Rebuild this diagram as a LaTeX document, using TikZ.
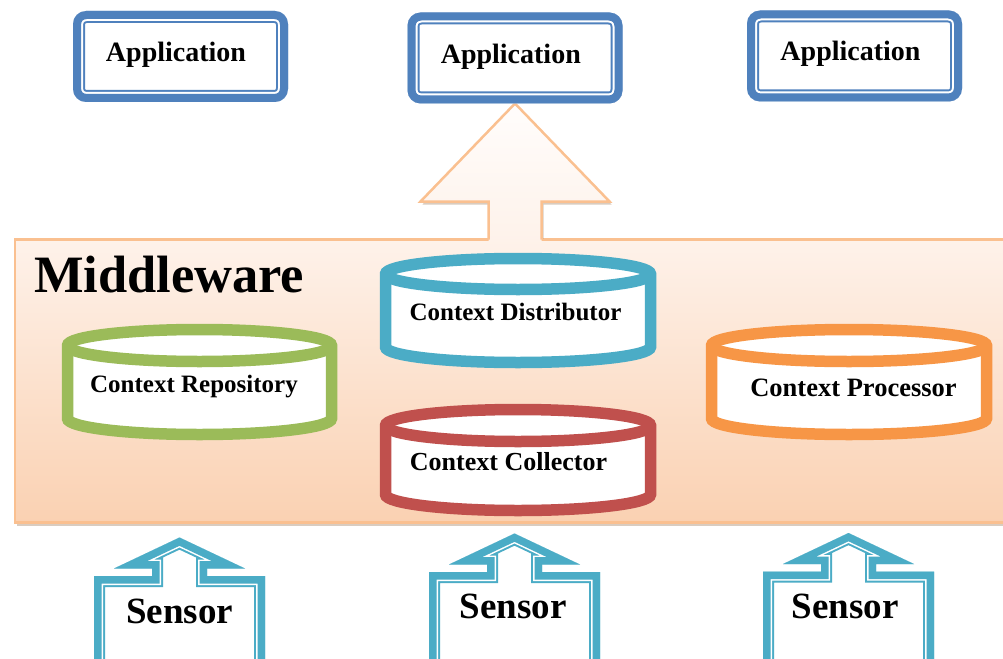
\documentclass[tikz,border=0pt]{standalone}
\usepackage{fontspec}
\setmainfont{Liberation Serif}

\definecolor{appblue}{HTML}{4F81BD}
\definecolor{sensteal}{HTML}{4BACC6}
\definecolor{repogreen}{HTML}{9BBB59}
\definecolor{distblue}{HTML}{4BACC6}
\definecolor{collred}{HTML}{C0504D}
\definecolor{procorange}{HTML}{F79646}
\definecolor{mwline}{HTML}{FAC090}
\definecolor{mwtop}{HTML}{FEF2EA}
\definecolor{mwbottom}{HTML}{FAD1B2}
\definecolor{mwshadow}{HTML}{B9A28C}
\definecolor{arrowtop}{HTML}{FFFDFC}

\tikzset{
  every node/.style={inner sep=0pt, outer sep=0pt},
  boldlabel/.style={font=\bfseries\fontsize{#1}{#1}\selectfont, anchor=base},
  mwpanel/.style={draw=mwline, line width=2.5, top color=mwtop, bottom color=mwbottom,
    minimum width=995, minimum height=283},
  appbox/.style={fill=white, rounded corners=13, minimum width=215, minimum height=91},
  cylline/.style={line width=11.5},
  bigarrowline/.style={draw=mwline, line width=2.5, line join=miter},
  sensor outline/.style={insert path={(-85.5,160) -- (-85.5,38.5) -- (-27.5,38.5) -- (-27.5,31)
    -- (-65.5,31) -- (0,0) -- (65.5,31) -- (27.5,31) -- (27.5,38.5) -- (85.5,38.5)
    -- (85.5,160) -- cycle}},
}

% thick-thin frame of an application box, kept inside the box
\newcommand\appframe[1]{%
  \begin{scope}
    \clip[rounded corners=13] (#1.north west) rectangle (#1.south east);
    \draw[appblue, line width=24, rounded corners=13] (#1.north west) rectangle (#1.south east);
    \draw[white, line width=20, rounded corners=13] (#1.north west) rectangle (#1.south east);
    \draw[appblue, line width=16, rounded corners=13] (#1.north west) rectangle (#1.south east);
  \end{scope}}

% thick-thin up-arrow callout of a sensor, placed by the tip of its arrow
\newcommand\sensorframe[1]{%
  \begin{scope}[shift={(#1)}]
    \clip[sensor outline];
    \path[fill=white, sensor outline];
    \draw[sensteal, line width=22, sensor outline];
    \draw[white, line width=18, sensor outline];
    \draw[sensteal, line width=15, sensor outline];
  \end{scope}}

% database cylinder: colour, centre, x radius, half distance of the caps, y radius
\newcommand\cylinder[5]{%
  \begin{scope}[shift={(#2)}]
    \filldraw[cylline, fill=white, draw=#1] (-#3,-#4) -- (-#3,#4)
      arc[start angle=180, end angle=0, x radius=#3, y radius=#5] -- (#3,-#4)
      arc[start angle=0, end angle=-180, x radius=#3, y radius=#5] -- cycle;
    \draw[cylline, draw=#1] (-#3,-#4) arc[start angle=180, end angle=0, x radius=#3, y radius=#5];
  \end{scope}}

\begin{document}
\begin{tikzpicture}[x=1pt, y=-1pt]
\useasboundingbox (0,0) rectangle (1003,658);
\clip (0,0) rectangle (1003,658);

% middleware panel
\fill[mwshadow, opacity=.55] (17,242.5) rectangle (1012,525.5);
\node[mwpanel] (mw) at (512.5,381) {};
\node[boldlabel=52.5, anchor=base west] (mwtitle) at (34,292) {Middleware};

% application boxes
\node[appbox] (app1) at (180.5,56.5) {};
\node[appbox] (app2) at (515,58) {};
\node[appbox] (app3) at (854.5,56) {};

% block arrow from the middleware up to the middle application
\coordinate (tip) at (app2.south);
\begin{scope}
  \clip (0,0) rectangle (1003,238.5);
  \fill[mwshadow, opacity=.55] ([shift={(2,3)}]tip) -- ++(94.5,98) -- ++(-68,0) -- ++(0,45)
    -- ++(-53,0) -- ++(0,-45) -- ++(-68,0) -- cycle;
\end{scope}
\shade[top color=arrowtop, bottom color=mwtop] (tip) -- ++(94.5,98) -- ++(-68,0) -- ++(0,40.5)
  -- ++(-53,0) -- ++(0,-40.5) -- ++(-68,0) -- cycle;
\draw[bigarrowline] ([shift={(26.5,136)}]tip) -- ++(0,-38) -- ++(68,0) -- (tip)
  -- ++(-94.5,98) -- ++(68,0) -- ++(0,38);

\appframe{app1}
\appframe{app2}
\appframe{app3}
\node[boldlabel=28] (app1label) at (176,62) {Application};
\node[boldlabel=28] (app2label) at (510.8,63.3) {Application};
\node[boldlabel=28] (app3label) at (850.5,60.5) {Application};

% context components
\coordinate (repo) at (199.5,382);
\coordinate (dist) at (518,310.5);
\coordinate (coll) at (518,460);
\coordinate (proc) at (849,382);
\cylinder{repogreen}{repo}{132}{36.5}{16}
\cylinder{distblue}{dist}{132.5}{36.5}{15.5}
\cylinder{collred}{coll}{132.5}{34.5}{16}
\cylinder{procorange}{proc}{137.5}{36.5}{16}
\node[boldlabel=25] (repolabel) at (194,392) {Context Repository};
\node[boldlabel=25] (distlabel) at (515.5,320) {Context Distributor};
\node[boldlabel=26] (colllabel) at (508.5,470) {Context Collector};
\node[boldlabel=26.5] (proclabel) at (853.5,396) {Context Processor};

% sensors
\coordinate (sen1) at (179.5,537.5);
\coordinate (sen2) at (514.5,533.5);
\coordinate (sen3) at (848.5,533);
\sensorframe{sen1}
\sensorframe{sen2}
\sensorframe{sen3}
\node[boldlabel=37] (sen1label) at (179.5,623) {Sensor};
\node[boldlabel=37] (sen2label) at (513,618.3) {Sensor};
\node[boldlabel=37] (sen3label) at (845.3,618.7) {Sensor};
\end{tikzpicture}
\end{document}
